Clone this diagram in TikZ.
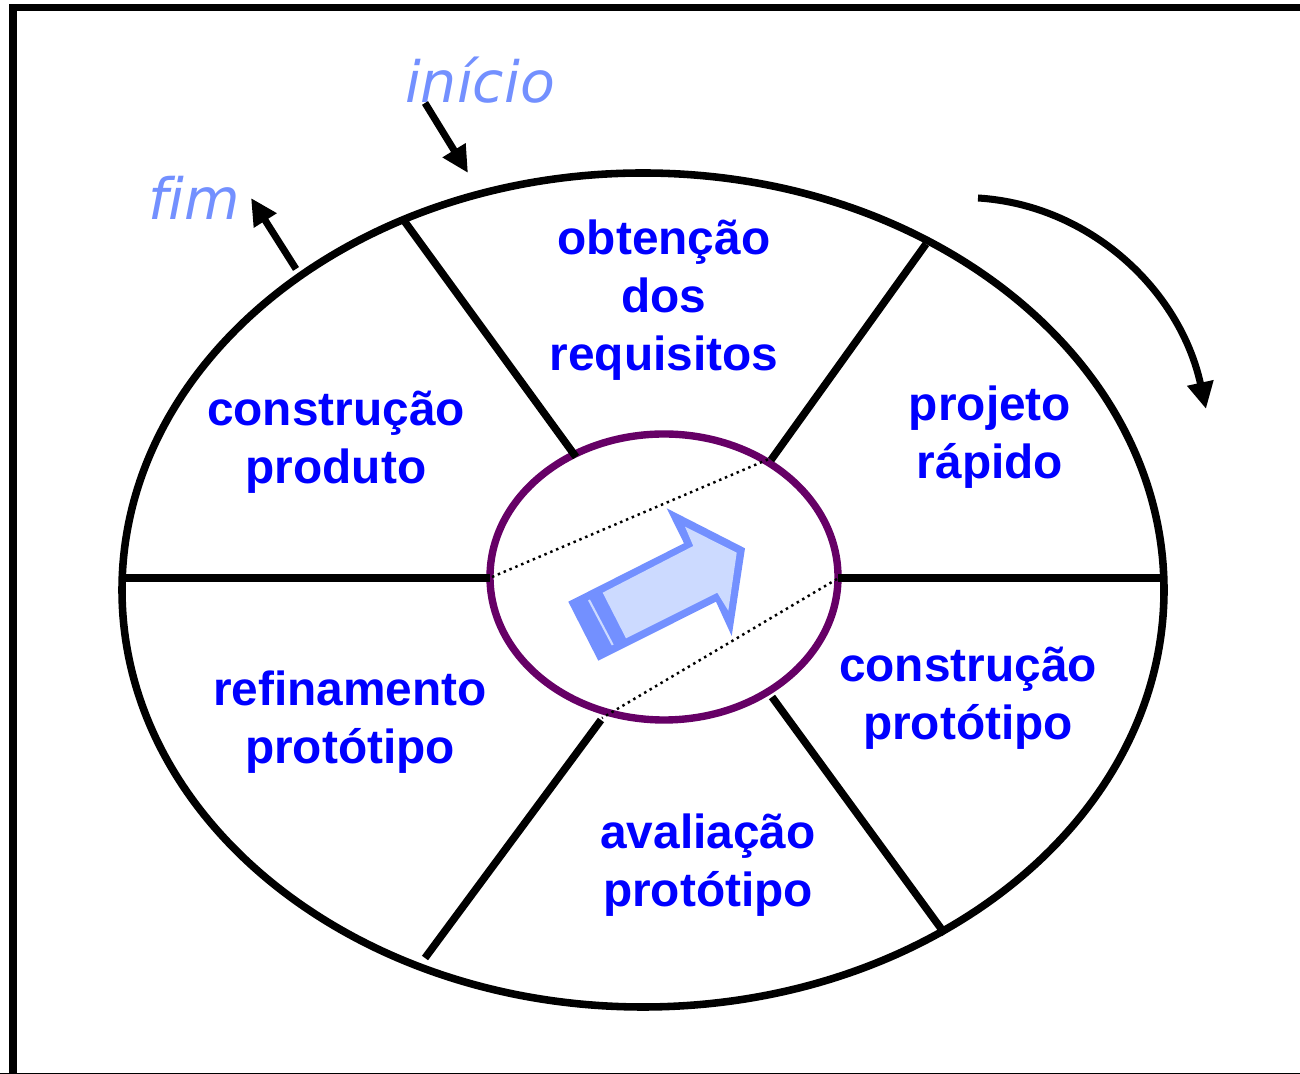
\documentclass[tikz,border=0pt]{standalone}
\usepackage{fontspec}
\setmainfont{Liberation Sans}
\newfontfamily\handfont[Ligatures=NoCommon]{DejaVu Sans}
\usepackage{tikz}
\usetikzlibrary{arrows.meta}
\definecolor{labelblue}{HTML}{0000FF}
\definecolor{handblue}{HTML}{7390FF}
\definecolor{arrowfill}{HTML}{CCDAFF}
\definecolor{hubpurple}{HTML}{660066}

\begin{document}
\begin{tikzpicture}[x=0.01cm,y=-0.01cm,line join=miter,
    wheel/.style={line width=2.15pt,color=black},
    pointer/.style={line width=2pt,color=black,-{Triangle[length=7.6pt,width=7.2pt]}},
    secant/.style={line width=0.7pt,dash pattern=on 0.7pt off 1.1pt},
    phase/.style={align=center,text=labelblue,font=\fontsize{13.6}{16.4}\selectfont\bfseries},
    mark label/.style={text=handblue,font=\fontsize{16.2}{20}\selectfont\handfont\itshape}]
\useasboundingbox (0,0) rectangle (1300,1074);

%Frame, only left and top are inside the page
\draw[line width=2.15pt] (12.8,1200) -- (12.8,7.6) -- (1400,7.6);
\draw[line width=0.4pt] (0,1073.5) -- (1300,1073.5);

%Points on the outer and inner rings
\coordinate (A1) at (405,222);
\coordinate (A2) at (576,457);
\coordinate (B1) at (926,244);
\coordinate (B2) at (771,460);
\coordinate (C1) at (122,578);
\coordinate (C2) at (490,578);
\coordinate (D1) at (1162,578);
\coordinate (D2) at (838,578);
\coordinate (E1) at (945,934);
\coordinate (E2) at (772,697);
\coordinate (F1) at (425,958);
\coordinate (F2) at (601,720);
\coordinate (S1) at (492,577);
\coordinate (S2) at (769,459);
\coordinate (T1) at (837,579);
\coordinate (T2) at (602,718);

% Rings, then the spokes on top of them
\draw[line width=2.1pt,color=hubpurple] (664,577) ellipse [x radius=174,y radius=143];
\draw[wheel] (643,590) ellipse [x radius=521,y radius=417];
\draw[wheel] (A1) -- (A2);
\draw[wheel] (B1) -- (B2);
\draw[wheel] (C1) -- (C2);
\draw[wheel] (D1) -- (D2);
\draw[wheel] (E1) -- (E2);
\draw[wheel] (F1) -- (F2);

% Hub with the block arrow
\draw[secant] (S1) -- (S2);
\draw[secant] (T1) -- (T2);
\fill[handblue] (568.3,601.7) -- (684,543.3) -- (666.7,508.3) -- (745,548.3) -- (731.7,636) -- (716,601.7) -- (598.3,660.7) -- cycle;
\fill[arrowfill] (602.7,592.7) -- (693.3,546) -- (685,526.7) -- (736.7,552.7) -- (728.3,610.7) -- (717.3,592.7) -- (626,638.3) -- cycle;
\draw[line width=0.6pt,color=arrowfill] (589,600) -- (612.7,645);

% Labels of the phases
\node[phase] (obtencao) at (664,300) {obtenção\\dos\\requisitos};
\node[phase] (projeto) at (990,437) {projeto\\rápido};
\node[phase] (prototipo) at (968,698) {construção\\protótipo};
\node[phase] (avaliacao) at (708,865) {avaliação\\protótipo};
\node[phase] (refinamento) at (350,722) {refinamento\\protótipo};
\node[phase] (produto) at (336,442) {construção\\produto};

% Start and end marks
\node[mark label] (inicio) at (480,80) {início};
\node[mark label] (fim) at (194,198) {fim};
\coordinate (inicioA) at (425,103);
\coordinate (inicioB) at (468,173);
\coordinate (fimA) at (296,269);
\coordinate (fimB) at (251,198);
\draw[pointer] (inicioA) -- (inicioB);
\draw[pointer] (fimA) -- (fimB);

% Direction of the cycle
\coordinate (turnA) at (978,198);
\coordinate (turnB) at (1206,409);
\draw[pointer] (turnA) .. controls (1090,205) and (1180,290) .. (turnB);
\end{tikzpicture}
\end{document}
